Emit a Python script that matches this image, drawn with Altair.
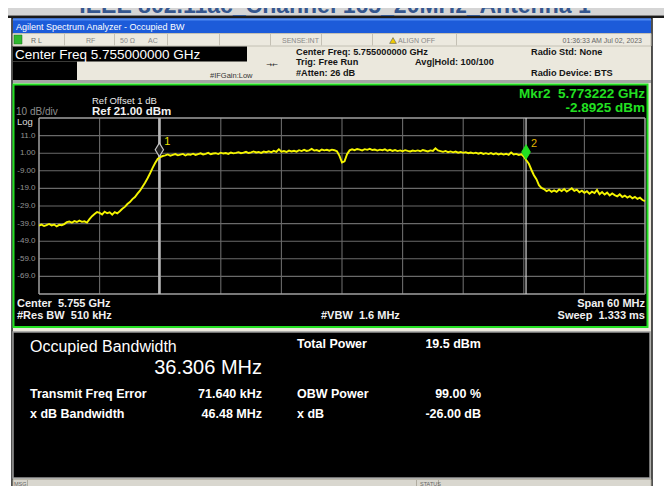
import altair as alt
import pandas as pd

# ---------------- data ----------------
TITLE = "IEEE 802.11ac_Channel 165_20MHz_Antenna 1"
START_GHZ = 5.725
STOP_GHZ = 5.785
STEP_GHZ = 0.00025  # sweep point spacing (0.25 MHz)

LEVEL_DBM = [
    -40.1, -39.6, -40.4, -39.8, -39.2, -40.0, -39.5, -40.6, -39.7, -39.9, -39.3,
    -38.2, -37.8, -38.5, -37.6, -38.1, -37.3, -38.0, -37.7, -38.4,
    -36.5, -34.8, -33.6, -32.4,
    -32.9, -33.8, -32.2, -33.1, -32.6, -33.9, -32.5, -33.2,
    -32.0, -30.6, -29.5, -27.9,
    -26.8, -25.1, -23.9, -22.0,
    -20.3, -18.0, -15.8, -13.2,
    -10.4, -7.3, -4.6, -2.3,
    -1.2, -0.6, -0.2,
    0.3, -0.4, 0.1, 0.5, -0.2, 0.2, 0.6, -0.3, 0.4, 0.1,
    0.7, 0.0, 0.5, 0.9, 0.3, 0.6, 1.2, 0.4, 0.8, 1.0,
    0.5, 1.3, 0.8, 1.1, 0.6, 1.4, 0.9, 1.2, 1.6, 1.0,
    1.3, 1.8, 1.1, 1.5, 2.0, 1.4, 1.7, 1.2, 1.9, 1.6,
    2.1, 1.5, 2.3, 1.8, 3.2, 1.9, 2.2, 1.7, 2.5, 2.0,
    2.4, 1.9, 2.7, 2.2, 2.9, 2.3, 2.6, 3.4, 2.5, 2.8, 2.2, 3.1, 2.6, 2.9, 2.4, 3.0, 2.7,
    2.1, -0.5, -4.3, -3.6, 0.4, 2.6,
    3.2, 2.7, 3.4, 3.0, 2.6, 3.3, 2.9, 3.5, 2.8, 3.1, 2.5, 3.0, 2.7, 3.2, 2.4, 2.9, 2.3,
    2.8, 2.2, 2.6, 2.1, 2.7, 2.3, 2.0, 2.5, 2.2, 2.6, 2.1, 2.8, 2.4, 2.0, 2.6, 2.3, 3.8,
    2.6, 2.2, 1.8, 2.3, 1.6, 2.0, 1.5, 1.9, 1.3, 1.7, 1.2, 1.6, 1.0, 1.4, 0.9, 1.3, 0.7,
    1.2, 0.6, 1.0, 0.5, 1.1, 0.4, 0.9, 0.3, 0.8, 0.2, 0.7, 0.1, 1.4, 0.3, 0.6, 0.0, 0.4,
    -0.9, -3.0, -5.0, -8.4, -11.5, -13.8, -17.2, -18.7, -19.4,
    -20.6, -19.8, -20.9, -20.1, -21.0, -19.6, -20.5, -19.4, -20.8, -19.9,
    -18.9, -20.4, -19.7, -21.2, -20.3, -21.5, -20.6, -22.0, -20.9, -21.7,
    -19.9, -22.3, -21.1, -22.5, -21.4, -23.0, -21.9, -22.8, -23.5, -22.4,
    -23.9, -23.1, -24.2, -23.4, -24.6, -23.8, -25.0, -24.3, -25.6, -26.2,
]

X_GRID = [5.731, 5.737, 5.743, 5.749, 5.755, 5.761, 5.767, 5.773, 5.779]
X_FRAME = [5.725, 5.785]
Y_GRID = [11, 1, -9, -19, -29, -39, -49, -59, -69]
Y_FRAME = [21, -79]
Y_TICK_VALUES = [11, 1, -9, -19, -29, -39, -49, -59, -69]
Y_TICK_LABELS = ["11.0", "1.00", "-9.00", "-19.0", "-29.0", "-39.0", "-49.0", "-59.0", "-69.0"]
Y_DOMAIN = [-79, 21]

MARKER_NAME = ["1", "2"]
MARKER_FREQ = [5.736916, 5.773222]
MARKER_LEVEL = [-1.6, -2.8925]

FONT = "Liberation Sans"

# ---------------- layout helpers (page pixel -> plot pixel) ----------------
OX, OY = 39, 118
W, H = 606, 176


def px(v):
    return v - OX


def py(v):
    return v - OY


# chrome rectangles: name, x, x2, y, y2, fill, stroke, stroke width (page px)
RECTS = [
    ("band", 0, 672, 0, 15.5, "#d5d5d5", "#d5d5d5", 0),
    ("band_line", 0, 672, 15.5, 18, "#1a1a1a", "#1a1a1a", 0),
    ("window", 12, 652, 18, 496, "#ebe8dd", "#1a1a1a", 1.5),
    ("titlebar", 13, 651, 18.5, 33, "#1c5bd9", "#1c5bd9", 0),
    ("titlebar_hi", 13, 651, 18.5, 20.5, "#4f8af2", "#4f8af2", 0),
    ("status", 13, 651, 33.5, 46, "#ece9df", "#c4c0b4", 1),
    ("lxi", 14, 22, 35, 44, "#2fb82f", "#1a6a1a", 0.5),
    ("cf_box", 13, 247, 46.5, 61.5, "#000000", "#000000", 0),
    ("cf_box2", 13, 77, 61.5, 80, "#000000", "#000000", 0),
    ("hdr_line", 13, 651, 80, 83, "#a5a5a5", "#a5a5a5", 0),
    ("plot_panel", 13.5, 647.5, 84.5, 327, "#000000", "#22e022", 2),
    ("info_panel", 13, 650, 332, 478, "#000000", "#9a9a9a", 1.5),
    ("bottom_bar", 13, 651, 479.5, 496, "#d9d7cf", "#b0aca0", 0.8),
]
for sx in [64, 114, 167, 219, 270, 321, 372, 456]:
    RECTS.append(("sep", sx, sx + 1, 34, 45.5, "#c4c0b4", "#c4c0b4", 0))
for sx in [27, 416, 438]:
    RECTS.append(("sep2", sx, sx + 1, 480, 494, "#b0aca0", "#b0aca0", 0))

rect_df = pd.DataFrame(
    [
        {"name": n, "x": px(a), "x2": px(b), "y": py(c), "y2": py(d), "fill": f, "stroke": s, "sw": w}
        for n, a, b, c, d, f, s, w in RECTS
    ]
)

# chrome texts: text, x, y (baseline, page px), size, color, weight, align
TEXTS = [
    (TITLE, 335, 12.5, 23, "#35578f", "bold", "center"),
    ("Agilent Spectrum Analyzer - Occupied BW", 16, 29.5, 9, "#ffffff", "normal", "left"),
    ("R L", 31, 43, 7, "#666666", "normal", "left"),
    ("RF", 86, 43, 7, "#888888", "normal", "left"),
    ("50 \u03a9", 120, 43, 7, "#888888", "normal", "left"),
    ("AC", 148, 43, 7, "#888888", "normal", "left"),
    ("SENSE:INT", 282, 43, 7, "#888888", "normal", "left"),
    ("ALIGN OFF", 398, 43, 7, "#888888", "normal", "left"),
    ("01:36:33 AM Jul 02, 2023", 642, 43, 7, "#666666", "normal", "right"),
    ("Center Freq 5.755000000 GHz", 15, 58.5, 13.5, "#ffffff", "normal", "left"),
    ("#IFGain:Low", 210, 77.5, 7.5, "#333333", "normal", "left"),
    ("Center Freq: 5.755000000 GHz", 296, 54.5, 9.2, "#151515", "bold", "left"),
    ("Trig: Free Run", 296, 65, 9.2, "#151515", "bold", "left"),
    ("#Atten: 26 dB", 296, 76, 9.2, "#151515", "bold", "left"),
    ("Avg|Hold: 100/100", 415, 65, 9.2, "#151515", "bold", "left"),
    ("Radio Std: None", 531, 54.5, 9.2, "#151515", "bold", "left"),
    ("Radio Device: BTS", 531, 76, 9.2, "#151515", "bold", "left"),
    ("Ref Offset 1 dB", 92, 103.5, 9.5, "#e8e8e8", "normal", "left"),
    ("Ref 21.00 dBm", 92, 115, 11.5, "#f2f2f2", "bold", "left"),
    ("10 dB/div", 16, 114.5, 10, "#8e8e8e", "normal", "left"),
    ("Log", 17, 125, 9.5, "#dcdcdc", "normal", "left"),
    ("Mkr2\u00a0 5.773222 GHz", 645, 97.5, 13.5, "#22e022", "bold", "right"),
    ("-2.8925 dBm", 645, 111.5, 13.5, "#22e022", "bold", "right"),
    ("Center\u00a0 5.755 GHz", 17, 306.5, 11, "#f0f0f0", "bold", "left"),
    ("#Res BW\u00a0 510 kHz", 17, 318.5, 11, "#f0f0f0", "bold", "left"),
    ("#VBW\u00a0 1.6 MHz", 321, 318.5, 11, "#f0f0f0", "bold", "left"),
    ("Span 60 MHz", 645, 306.5, 11, "#f0f0f0", "bold", "right"),
    ("Sweep\u00a0 1.333 ms", 645, 318.5, 11, "#f0f0f0", "bold", "right"),
    ("Occupied Bandwidth", 30, 352, 16, "#ffffff", "normal", "left"),
    ("36.306 MHz", 262, 374, 20, "#ffffff", "normal", "right"),
    ("Total Power", 297, 348, 12.5, "#ffffff", "bold", "left"),
    ("19.5 dBm", 481, 348, 12.5, "#ffffff", "bold", "right"),
    ("Transmit Freq Error", 30, 398, 12.5, "#ffffff", "bold", "left"),
    ("71.640 kHz", 262, 398, 12.5, "#ffffff", "bold", "right"),
    ("OBW Power", 297, 398, 12.5, "#ffffff", "bold", "left"),
    ("99.00 %", 481, 398, 12.5, "#ffffff", "bold", "right"),
    ("x dB Bandwidth", 30, 418, 12.5, "#ffffff", "bold", "left"),
    ("46.48 MHz", 262, 418, 12.5, "#ffffff", "bold", "right"),
    ("x dB", 297, 418, 12.5, "#ffffff", "bold", "left"),
    ("-26.00 dB", 481, 418, 12.5, "#ffffff", "bold", "right"),
    ("MSG", 14, 485.5, 5.5, "#666666", "normal", "left"),
    ("STATUS", 420, 485.5, 5.5, "#666666", "normal", "left"),
]
text_df = pd.DataFrame(
    [
        {"text": t, "x": px(a), "y": py(b), "size": s, "color": c, "weight": w, "align": al}
        for t, a, b, s, c, w, al in TEXTS
    ]
)

# ---------------- chart ----------------
freqs = [round(START_GHZ + i * STEP_GHZ, 6) for i in range(len(LEVEL_DBM))]
trace_df = pd.DataFrame({"freq": freqs, "level": LEVEL_DBM})
marker_df = pd.DataFrame(
    {
        "name": MARKER_NAME,
        "freq": MARKER_FREQ,
        "level": MARKER_LEVEL,
        "fill": ["#1c1c1c", "#22e022"],
        "stroke": ["#c4c4c4", "#22e022"],
        "lcolor": ["#b8b8b8", "#d2d2d2"],
        "lwidth": [2.5, 1.2],
        "tcolor": ["#ece000", "#e0b400"],
    }
)
ytick_df = pd.DataFrame({"v": Y_TICK_VALUES, "label": Y_TICK_LABELS})

x_scale = alt.Scale(domain=[START_GHZ, STOP_GHZ], nice=False, zero=False)
y_scale = alt.Scale(domain=Y_DOMAIN, nice=False, zero=False)

rects = alt.Chart(rect_df).mark_rect().encode(
    x=alt.X("x:Q", scale=None, axis=None),
    x2="x2:Q",
    y=alt.Y("y:Q", scale=None, axis=None),
    y2="y2:Q",
    fill=alt.Fill("fill:N", scale=None),
    stroke=alt.Stroke("stroke:N", scale=None),
    strokeWidth=alt.StrokeWidth("sw:Q", scale=None),
)

xgrid = alt.Chart(pd.DataFrame({"gx": X_GRID})).mark_rule(color="#6a6a6a", strokeWidth=1.1).encode(
    x=alt.X("gx:Q", scale=x_scale, axis=None)
)
ygrid = alt.Chart(pd.DataFrame({"gy": Y_GRID})).mark_rule(color="#6a6a6a", strokeWidth=1.1).encode(
    y=alt.Y("gy:Q", scale=y_scale, axis=None)
)
xframe = alt.Chart(pd.DataFrame({"fx": X_FRAME})).mark_rule(color="#a0a0a0", strokeWidth=1.5).encode(
    x=alt.X("fx:Q", scale=x_scale, axis=None)
)
yframe = alt.Chart(pd.DataFrame({"fy": Y_FRAME})).mark_rule(color="#a0a0a0", strokeWidth=1.5).encode(
    y=alt.Y("fy:Q", scale=y_scale, axis=None)
)

# y tick labels, positioned through the y scale
ylabels = alt.Chart(ytick_df).mark_text(
    align="right", baseline="middle", dx=-3.5, fontSize=8, font=FONT, color="#949494"
).encode(
    x=alt.value(0),
    y=alt.Y("v:Q", scale=y_scale, axis=None),
    text="label:N",
)

mlines = alt.Chart(marker_df).mark_rule().encode(
    x=alt.X("freq:Q", scale=x_scale, axis=None),
    color=alt.Color("lcolor:N", scale=None),
    strokeWidth=alt.StrokeWidth("lwidth:Q", scale=None),
)

trace = alt.Chart(trace_df).mark_line(color="#f4f400", strokeWidth=1.9).encode(
    x=alt.X("freq:Q", scale=x_scale, axis=None),
    y=alt.Y("level:Q", scale=y_scale, axis=None),
)

DIAMOND = "M0,-1L0.6,0L0,1L-0.6,0Z"
mdiamond = alt.Chart(marker_df).mark_point(
    shape=DIAMOND, size=190, filled=True, opacity=1, strokeWidth=1.2, yOffset=-8
).encode(
    x=alt.X("freq:Q", scale=x_scale, axis=None),
    y=alt.Y("level:Q", scale=y_scale, axis=None),
    fill=alt.Fill("fill:N", scale=None),
    stroke=alt.Stroke("stroke:N", scale=None),
)
mlabel = alt.Chart(marker_df).mark_text(
    dx=8, dy=-16, align="center", baseline="middle", fontSize=11, font=FONT
).encode(
    x=alt.X("freq:Q", scale=x_scale, axis=None),
    y=alt.Y("level:Q", scale=y_scale, axis=None),
    text="name:N",
    color=alt.Color("tcolor:N", scale=None),
)

warn = alt.Chart(pd.DataFrame({"k": [0]})).mark_point(
    shape="triangle-up", size=45, filled=True, fill="#f2cc00", stroke="#555555", strokeWidth=0.6, opacity=1
).encode(x=alt.value(px(393)), y=alt.value(py(40.5)))

arrow = alt.Chart(pd.DataFrame({"k": ["\u2192\u2190"]})).mark_text(
    font="DejaVu Sans", fontSize=7, color="#222222", align="center", baseline="middle"
).encode(x=alt.value(px(272)), y=alt.value(py(65)), text="k:N")

text_layers = []
for (w, al), sub in text_df.groupby(["weight", "align"]):
    text_layers.append(
        alt.Chart(sub.reset_index(drop=True)).mark_text(
            font=FONT, fontWeight=w, align=al, baseline="alphabetic"
        ).encode(
            x=alt.X("x:Q", scale=None, axis=None),
            y=alt.Y("y:Q", scale=None, axis=None),
            text="text:N",
            size=alt.Size("size:Q", scale=None, legend=None),
            color=alt.Color("color:N", scale=None, legend=None),
        )
    )

chart = alt.layer(
    rects, xgrid, ygrid, xframe, yframe, ylabels, mlines, trace, mdiamond, mlabel, warn, arrow, *text_layers
).properties(
    width=W,
    height=H,
    padding={"left": 31, "top": 110, "right": 19, "bottom": 192},
    autosize=alt.AutoSizeParams(type="none"),
    background="white",
).configure_view(stroke=None)

chart.save("out.html", embed_options={"renderer": "svg", "actions": False})
